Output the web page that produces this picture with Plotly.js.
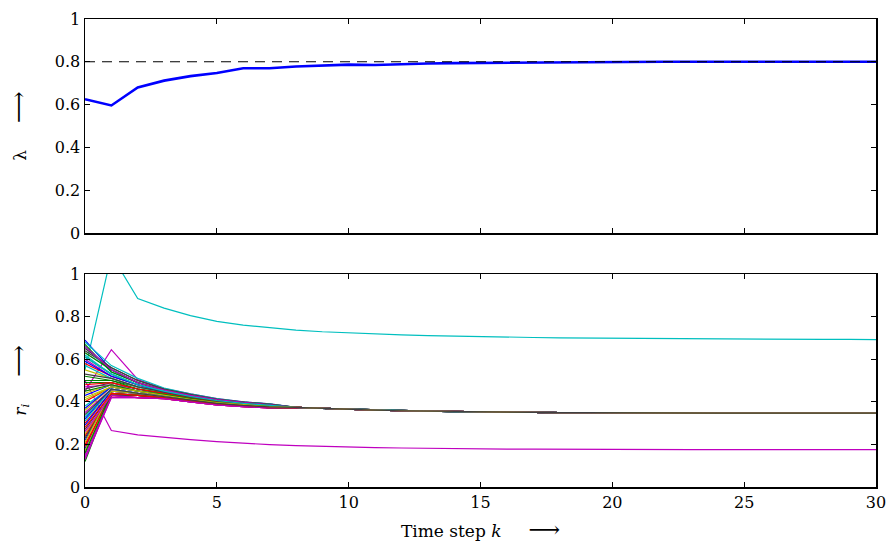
<!DOCTYPE html>
<html>
<head>
<meta charset="utf-8">
<script src="https://cdn.plot.ly/plotly-3.0.1.min.js"></script>
<style>html,body{margin:0;padding:0;background:#fff;}#chart{width:887px;height:545px;}</style>
</head>
<body>
<div id="chart"></div>
<script>
// ---- data ----
const steps = Array.from({length: 31}, (_, i) => i); // k = 0..30
const lambdaVals = [0.625,0.596,0.680,0.712,0.733,0.748,0.770,0.770,0.778,0.783,0.787,0.785,0.790,0.792,0.794,0.795,0.797,0.798,0.798,0.799,0.800,0.800,0.800,0.800,0.800,0.800,0.800,0.800,0.800,0.800,0.800];
const lambdaRef = 0.8;

// individual r_i lines: values at k = 0..7 for each line
const rK0 = [0.69,0.12,0.58,0.33,0.47,0.25,0.64,0.18,
             0.52,0.40,0.66,0.15,0.36,0.61,0.22,0.49,
             0.30,0.68,0.14,0.55,0.27,0.43,0.63,0.20,
             0.38,0.60,0.17,0.46,0.32,0.67,0.24,0.57,
             0.13,0.41,0.65,0.29,0.50,0.19,0.62,0.35,
             0.44,0.23,0.59,0.16,0.48,0.31,0.66,0.21,
             0.53,0.37,0.45,0.28,0.61,0.26,0.42,0.34];
const rK1 = [0.55,0.44,0.52,0.46,0.48,0.43,0.56,0.45,
             0.50,0.47,0.54,0.43,0.47,0.53,0.44,0.49,
             0.45,0.57,0.42,0.51,0.44,0.48,0.55,0.43,
             0.47,0.52,0.44,0.49,0.46,0.54,0.43,0.51,
             0.42,0.47,0.56,0.45,0.50,0.44,0.53,0.46,
             0.48,0.43,0.52,0.44,0.49,0.46,0.55,0.45,
             0.51,0.47,0.48,0.44,0.53,0.43,0.47,0.46];
const rK2 = [0.49,0.43,0.48,0.44,0.46,0.42,0.50,0.44,
             0.47,0.45,0.49,0.42,0.45,0.48,0.43,0.46,
             0.44,0.51,0.42,0.47,0.43,0.45,0.49,0.43,
             0.45,0.48,0.43,0.46,0.44,0.49,0.42,0.47,
             0.42,0.45,0.50,0.44,0.46,0.43,0.48,0.44,
             0.45,0.43,0.48,0.43,0.46,0.44,0.49,0.44,
             0.47,0.45,0.45,0.43,0.48,0.42,0.45,0.44];
const rK3 = [0.455,0.420,0.445,0.425,0.435,0.415,0.460,0.425,
             0.445,0.430,0.455,0.415,0.430,0.450,0.420,0.440,
             0.425,0.465,0.415,0.445,0.420,0.435,0.455,0.420,
             0.430,0.450,0.420,0.440,0.425,0.455,0.415,0.445,
             0.415,0.430,0.460,0.425,0.440,0.420,0.450,0.425,
             0.435,0.420,0.445,0.420,0.440,0.425,0.455,0.425,
             0.445,0.430,0.435,0.420,0.450,0.415,0.430,0.425];
const rK4 = [0.430,0.405,0.422,0.408,0.415,0.400,0.435,0.408,
             0.422,0.412,0.430,0.400,0.412,0.425,0.405,0.418,
             0.408,0.437,0.400,0.422,0.405,0.415,0.430,0.405,
             0.412,0.425,0.405,0.418,0.408,0.430,0.400,0.422,
             0.400,0.412,0.435,0.408,0.418,0.405,0.425,0.408,
             0.415,0.405,0.422,0.405,0.418,0.408,0.430,0.408,
             0.422,0.412,0.415,0.405,0.425,0.400,0.412,0.408];
const rK5 = [0.410,0.390,0.404,0.393,0.398,0.386,0.413,0.393,
             0.404,0.396,0.410,0.386,0.396,0.406,0.390,0.400,
             0.393,0.415,0.386,0.404,0.390,0.398,0.410,0.390,
             0.396,0.406,0.390,0.400,0.393,0.410,0.386,0.404,
             0.386,0.396,0.413,0.393,0.400,0.390,0.406,0.393,
             0.398,0.390,0.404,0.390,0.400,0.393,0.410,0.393,
             0.404,0.396,0.398,0.390,0.406,0.386,0.396,0.393];
const rK6 = [0.397,0.380,0.392,0.383,0.387,0.377,0.399,0.383,
             0.392,0.385,0.397,0.377,0.385,0.393,0.380,0.389,
             0.383,0.400,0.377,0.392,0.380,0.387,0.397,0.380,
             0.385,0.393,0.380,0.389,0.383,0.397,0.377,0.392,
             0.377,0.385,0.399,0.383,0.389,0.380,0.393,0.383,
             0.387,0.380,0.392,0.380,0.389,0.383,0.397,0.383,
             0.392,0.385,0.387,0.380,0.393,0.377,0.385,0.383];
const rK7 = [0.387,0.373,0.383,0.376,0.379,0.371,0.389,0.376,
             0.383,0.377,0.387,0.371,0.377,0.384,0.373,0.380,
             0.376,0.390,0.371,0.383,0.373,0.379,0.387,0.373,
             0.377,0.384,0.373,0.380,0.376,0.387,0.371,0.383,
             0.371,0.377,0.389,0.376,0.380,0.373,0.384,0.376,
             0.379,0.373,0.383,0.373,0.380,0.376,0.387,0.376,
             0.383,0.377,0.379,0.373,0.384,0.371,0.377,0.376];
// shared tail of the converged bundle, k = 8..30
const bundleTail = [0.374,0.369,0.365,0.361,0.358,0.356,0.354,0.352,0.351,0.350,0.349,0.349,0.348,0.348,0.348,0.347,0.347,0.347,0.347,0.347,0.347,0.347,0.347];

// outlier agents
const rHigh = [0.55,1.09,0.885,0.840,0.805,0.778,0.760,0.747,0.737,0.729,0.723,0.718,0.714,0.711,0.708,0.706,0.704,0.702,0.700,0.699,0.698,0.697,0.696,0.695,0.695,0.694,0.694,0.693,0.693,0.693,0.692];
const rLow  = [0.50,0.265,0.245,0.232,0.222,0.213,0.205,0.199,0.194,0.190,0.187,0.185,0.183,0.181,0.180,0.179,0.178,0.178,0.177,0.177,0.176,0.176,0.176,0.175,0.175,0.175,0.175,0.175,0.175,0.175,0.175];
const rPeakHead = [0.45,0.645,0.505,0.462,0.437,0.415,0.400,0.390];

const lineColors = ['#0000ff','#008000','#ff0000','#00bfbf','#bf00bf','#bfbf00','#404040'];

// ---- traces ----
const traces = [];
traces.push({x: steps, y: lambdaVals, xaxis:'x', yaxis:'y', mode:'lines',
  line:{color:'#0000ff', width:2.6}, hoverinfo:'skip'});
traces.push({x: steps, y: steps.map(() => lambdaRef), xaxis:'x', yaxis:'y', mode:'lines',
  line:{color:'#000000', width:1.1, dash:'10px,7px'}, hoverinfo:'skip'});

traces.push({x: steps, y: rHigh, xaxis:'x2', yaxis:'y2', mode:'lines', line:{color:'#00bfbf', width:1.2}, hoverinfo:'skip'});
traces.push({x: steps, y: rLow, xaxis:'x2', yaxis:'y2', mode:'lines', line:{color:'#bf00bf', width:1.2}, hoverinfo:'skip'});
traces.push({x: steps, y: rPeakHead.concat(bundleTail), xaxis:'x2', yaxis:'y2', mode:'lines', line:{color:'#bf00bf', width:1.2}, hoverinfo:'skip'});
for (let i = 0; i < rK0.length; i++) {
  traces.push({x: steps, y: [rK0[i], rK1[i], rK2[i], rK3[i], rK4[i], rK5[i], rK6[i], rK7[i]].concat(bundleTail),
    xaxis:'x2', yaxis:'y2', mode:'lines',
    line:{color: lineColors[i % lineColors.length], width:1.2}, hoverinfo:'skip'});
}

const tickFont = {family:'DejaVu Serif', size:16, color:'#000'};
const titleFont = {family:'DejaVu Serif', size:17, color:'#000'};
const yTicks = [0,0.2,0.4,0.6,0.8,1];
const yText = ['0','0.2','0.4','0.6','0.8','1'];
const axCommon = {showgrid:false, zeroline:false, showline:true, linecolor:'#000', linewidth:1.5,
  mirror:'ticks', ticks:'inside', ticklen:5, tickwidth:1, tickcolor:'#000', tickfont:tickFont};
const gap = '\u00a0\u00a0\u00a0\u00a0\u00a0';
const arrow = '<span style="font-size:22px">⟶</span>';

const layout = {
  width: 887, height: 545,
  margin: {l:85, r:11, t:19, b:58},
  paper_bgcolor:'#fff', plot_bgcolor:'#fff',
  showlegend:false,
  font: tickFont,
  xaxis: Object.assign({}, axCommon, {range:[0,30], tickvals:[0,5,10,15,20,25,30], showticklabels:false, anchor:'y', domain:[0,1]}),
  yaxis: Object.assign({}, axCommon, {range:[0,1], tickvals:yTicks, ticktext:yText, domain:[0.5427,1], anchor:'x',
    title:{text:'λ' + gap + arrow, font:titleFont, standoff:24}}),
  xaxis2: Object.assign({}, axCommon, {range:[0,30], tickvals:[0,5,10,15,20,25,30], anchor:'y2', domain:[0,1],
    title:{text:'Time step <i>k</i>' + gap + arrow, font:titleFont, standoff:14}}),
  yaxis2: Object.assign({}, axCommon, {range:[0,1], tickvals:yTicks, ticktext:yText, domain:[0,0.4551], anchor:'x2',
    title:{text:'<i>r</i><sub><i>i</i></sub>' + gap + arrow, font:titleFont, standoff:24}})
};

Plotly.newPlot('chart', traces, layout, {staticPlot:true, displayModeBar:false});
</script>
</body>
</html>
